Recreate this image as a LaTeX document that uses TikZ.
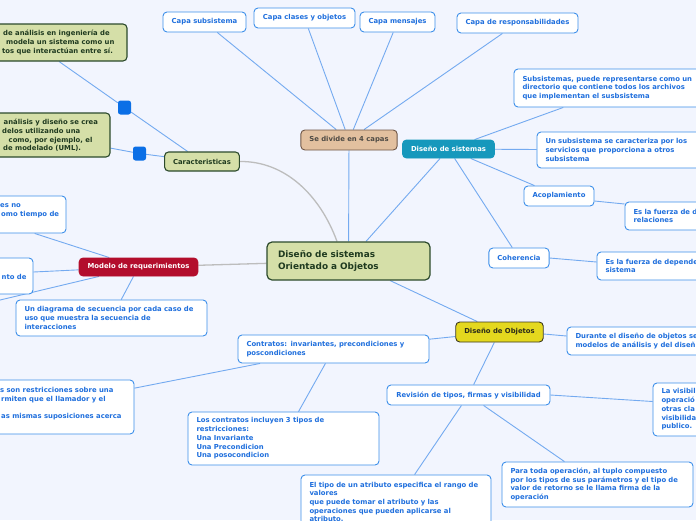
\documentclass[tikz,border=0pt]{standalone}
\usepackage{fontspec}
\setmainfont{DejaVu Sans}
\usetikzlibrary{calc,backgrounds}
\definecolor{bg}{HTML}{F2F5FE}
\definecolor{bborder}{HTML}{3D8FEA}
\definecolor{btext}{HTML}{1F6FDD}
\definecolor{connc}{HTML}{74AAF0}
\definecolor{gconnc}{HTML}{BDBDBD}
\definecolor{gfill}{HTML}{D5DFA8}
\definecolor{gborder}{HTML}{2C4A2C}
\definecolor{gtext}{HTML}{1F3A1F}
\definecolor{tanfill}{HTML}{E2C09F}
\definecolor{tanborder}{HTML}{6E5646}
\definecolor{tantext}{HTML}{4E4A44}
\definecolor{tealfill}{HTML}{1698BC}
\definecolor{yelfill}{HTML}{E4D81E}
\definecolor{yelborder}{HTML}{3A3820}
\definecolor{yeltext}{HTML}{2A2A1A}
\definecolor{redfill}{HTML}{B30D2C}
\definecolor{sqfill}{HTML}{0B6FE6}
\newcommand\bx[7]{%
 \pgfmathsetmacro\bxw{#5-#3}%
 \pgfmathsetmacro\bxh{#6-#4}%
 \pgfmathsetmacro\bxt{#5-#3-17}%
 \pgfmathsetmacro\bxx{(#3+#5)/2}%
 \pgfmathsetmacro\bxy{(#4+#6)/2}%
 \node[#1, minimum width=\bxw pt, minimum height=\bxh pt] (#2) at (\bxx,\bxy) {#7};}
\tikzset{
 basebox/.style={rectangle, rounded corners=4pt, inner xsep=8.5pt, inner ysep=0pt,
   font=\bfseries\fontsize{6.85}{8.7}\selectfont, line width=0.9pt},
 bluebox/.style={basebox, draw=bborder, fill=white, text=btext},
 ml/.style={text width=\bxt pt, align=left},
 greenbox/.style={basebox, draw=gborder, fill=gfill, text=gtext, line width=1.1pt},
 tanbox/.style={basebox, draw=tanborder, fill=tanfill, text=tantext},
 tealbox/.style={basebox, draw=tealfill, fill=tealfill, text=white},
 yelbox/.style={basebox, draw=yelborder, fill=yelfill, text=yeltext},
 redbox/.style={basebox, draw=redfill, fill=redfill, text=white},
 centralbox/.style={basebox, draw=gborder, fill=gfill, text=gtext, line width=1.2pt,
   rounded corners=5pt, inner xsep=11pt, text width=141pt, align=left,
   font=\bfseries\fontsize{8.9}{11.5}\selectfont},
 ltxt/.style={anchor=west, inner sep=0pt, align=left, font=\bfseries\fontsize{6.85}{8.7}\selectfont},
 conn/.style={draw=connc, line width=0.9pt},
 gconn/.style={draw=gconnc, line width=1.3pt},
 sq/.style={rectangle, rounded corners=2.5pt, fill=sqfill, minimum width=13pt, minimum height=14pt, inner sep=0pt},
}
\begin{document}
\begin{tikzpicture}[x=1pt,y=-1pt]
\useasboundingbox (0,0) rectangle (696,520);
% top layer
\bx{bluebox}{capsub}{163}{12}{246}{32}{Capa subsistema}
\bx{bluebox}{capcla}{254}{8}{355}{28}{Capa clases y objetos}
\bx{bluebox}{capmen}{360}{12}{435}{32}{Capa mensajes}
\bx{bluebox}{capres}{457}{13}{578}{33}{Capa de responsabilidades}
\bx{tanbox}{divide}{301}{130}{397}{150}{Se divide en 4 capas}
\bx{centralbox}{central}{267}{242}{430}{280}{Diseño de sistemas\\Orientado a Objetos}
% diseño de sistemas
\bx{tealbox}{dsis}{403}{140}{494}{158}{Diseño de sistemas}
\bx{bluebox,ml}{n8}{514}{69}{720}{107}{Subsistemas, puede representarse como un\\directorio que contiene todos los archivos\\que implementan el susbsistema}
\bx{bluebox,ml}{n9}{537}{132}{720}{168}{Un subsistema se caracteriza por los\\servicios que proporciona a otros\\subsistema}
\bx{bluebox}{acop}{524}{186}{594}{206}{Acoplamiento}
\bx{bluebox,ml}{n11}{625}{202}{760}{230}{Es la fuerza de d\\relaciones}
\bx{bluebox}{coher}{489}{248}{549}{268}{Coherencia}
\bx{bluebox,ml}{n13}{597}{252}{760}{280}{Es la fuerza de depende\\sistema}
% diseño de objetos
\bx{yelbox}{dobj}{456}{322}{543}{342}{Diseño de Objetos}
\bx{bluebox,ml}{n15}{567}{327}{760}{355}{Durante el diseño de objetos se\\modelos de análisis y del diseñ}
\bx{bluebox}{revis}{387}{385}{550}{405}{Revisión de tipos, firmas y visibilidad}
\bx{bluebox,ml}{n17}{653}{383}{760}{436}{La visibili\\operació\\otras cla\\visibilida\\publico.}
\bx{bluebox,ml}{n18}{502}{462}{693}{507}{\mbox{Para toda operación, al tuplo compuesto}\\\mbox{por los tipos de sus parámetros y el tipo de}\\\mbox{valor de retorno se le llama firma de la}\\operación}
\bx{bluebox,ml}{n19}{301}{475}{491}{529}{\mbox{El tipo de un atributo especifica el rango de}\\valores\\\mbox{que puede tomar el atributo y las}\\\mbox{operaciones que pueden aplicarse al}\\atributo.}
\bx{bluebox,ml}{contr}{238}{335}{429}{363}{\mbox{Contratos: invariantes, precondiciones y}\\poscondiciones}
\bx{bluebox,ml}{n21}{188}{412}{379}{465}{\mbox{Los contratos incluyen 3 tipos de}\\restricciones:\\Una Invariante\\Una Precondicion\\Una posocondicion}
\bx{bluebox}{n22}{-57}{380}{134}{434}{}
\node[ltxt, text=btext] (n22t) at (0,404) {s son restricciones sobre una\\\hspace*{1pt}rmiten que el llamador y el\\\mbox{}\\\hspace*{1pt}as mismas suposiciones acerca};
% modelo de requerimientos
\bx{redbox}{modelo}{80}{258}{197}{276}{Modelo de requerimientos}
\bx{bluebox}{n27}{-114}{196}{66}{233}{}
\node[ltxt, text=btext] (n27t) at (0,210.5) {es no\\\hspace*{1pt}omo tiempo de};
\bx{bluebox}{n28}{-135}{258}{33}{294}{}
\node[ltxt, text=btext] (n28t) at (1.5,277) {nto de};
\bx{bluebox,ml}{n29}{16}{300}{207}{336}{\mbox{Un diagrama de secuencia por cada caso de}\\uso que muestra la secuencia de\\interacciones}
\coordinate (offL) at (-20,304.8);
% caracteristicas
\bx{greenbox}{carac}{165}{152}{239}{171}{Caracteristicas}
\bx{greenbox}{n23}{-63}{24}{127}{61}{}
\node[ltxt, text=gtext] (n23t) at (2,42.5) {\hspace*{1pt}de análisis en ingeniería de\\\hspace*{4pt}modela un sistema como un\\tos que interactúan entre sí.};
\bx{greenbox}{n24}{-30}{113}{110}{157}{}
\node[ltxt, text=gtext] (n24t) at (2,135.5) {\hspace*{1.5pt}análisis y diseño se crea\\delos utilizando una\\\hspace*{6.5pt}como, por ejemplo, el\\\hspace*{1pt}de modelado (UML).};
\node[sq] (sq1) at (124.5,107.5) {};
\node[sq] (sq2) at (139.5,153.5) {};
\begin{pgfonlayer}{background}
\fill[bg] (0,0) rectangle (696,520);
\draw[conn] (capsub) -- (divide);
\draw[conn] (capcla) -- (divide);
\draw[conn] (capmen) -- (divide);
\draw[conn] (capres) -- (divide);
\draw[conn] (divide) -- (central);
\draw[conn] (central) -- (dsis);
\draw[conn] (dsis) -- (n8);
\draw[conn] (dsis) -- (n9);
\draw[conn] (dsis) -- (acop);
\draw[conn] (dsis) -- (coher);
\draw[conn] ($(acop.east)+(0,5)$) -- ($(n11.west)+(0,-12)$);
\draw[conn] (coher.east) -- ($(n13.west)+(0,-4)$);
\draw[conn] (central) -- (dobj);
\draw[conn] ($(dobj.east)+(0,2)$) -- ($(n15.west)+(0,-5)$);
\draw[conn] (dobj) -- (revis);
\draw[conn] (revis.east) -- ($(n17.west)+(0,-8)$);
\draw[conn] (revis) -- (n18);
\draw[conn] (revis) -- (n19);
\draw[conn] (dobj) -- (contr);
\draw[conn] (contr) -- (n21);
\draw[conn] (contr) -- (n22);
\draw[gconn] (central) -- (modelo);
\draw[gconn] (carac.east) .. controls (285,161) and (320,195) .. ($(central.north)+(-11.5,0)$);
\draw[conn] (n23) -- (sq1) -- (carac);
\draw[conn] (n24) -- (sq2) -- (carac);
\draw[conn] (modelo) -- (n27);
\draw[conn] (modelo) -- (n28);
\draw[conn] (modelo) -- (offL);
\draw[conn] (modelo) -- (n29);
\end{pgfonlayer}
\end{tikzpicture}
\end{document}
